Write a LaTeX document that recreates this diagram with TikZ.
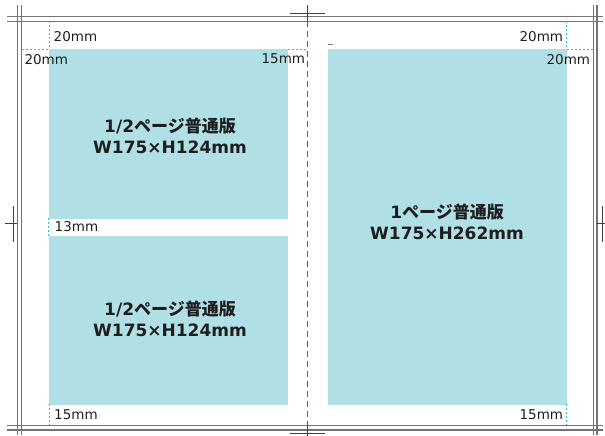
\documentclass[tikz,border=0pt]{standalone}
\usepackage{fontspec}
\setmainfont{DejaVu Sans}
\newfontfamily\jpb{Noto Sans CJK JP Bold}
\definecolor{boxblue}{RGB}{176,223,230}
\definecolor{guide}{RGB}{50,190,210}
\definecolor{framec}{RGB}{115,115,115}
\definecolor{markc}{RGB}{65,65,65}
\definecolor{txt}{RGB}{30,30,30}
\begin{document}
\begin{tikzpicture}[x=1pt,y=-1pt,
  framel/.style={draw=framec, line width=1.2pt},
  cropl/.style={draw=markc, line width=1pt},
  centerl/.style={draw=framec!85!black, line width=1.5pt, dash pattern=on 5.5pt off 4.5pt},
  guidel/.style={draw=guide, line width=0.8pt, dash pattern=on 2pt off 2pt},
  area/.style={fill=boxblue, draw=none, inner sep=0pt, anchor=north west},
  dim/.style={font=\fontsize{13.5}{14}\selectfont, text=txt, inner sep=0pt},
  big/.style={font=\fontsize{17}{21}\selectfont\bfseries, align=center, text=txt, inner sep=0pt}]
\useasboundingbox (0,0) rectangle (605,436);
% blue areas
\node[area, minimum width=238.7pt, minimum height=169.3pt] (A) at (49,49) {};
\node[area, minimum width=238.7pt, minimum height=168.3pt] (B) at (49,236) {};
\node[area, minimum width=239pt, minimum height=355.3pt] (C) at (327.7,49) {};
% frame lines
\draw[framel] (7,16.7) -- (603,16.7);
\draw[framel] (7,21.3) -- (603,21.3);
\draw[framel] (7,425.3) -- (603,425.3);
\draw[framel] (7,430) -- (603,430);
\draw[framel] (17.3,5) -- (17.3,435);
\draw[framel] (21.7,5) -- (21.7,435);
\draw[framel] (593.3,5) -- (593.3,435);
\draw[framel] (597,5) -- (597,435);
% center line and crop marks
\coordinate (ct) at (307.7,5);
\coordinate (ct2) at (307.7,21.3);
\coordinate (cb2) at (307.7,425.3);
\coordinate (cb) at (307.7,436);
\draw[cropl] (ct) -- (ct2);
\draw[centerl] (ct2) -- (cb2);
\draw[cropl] (cb2) -- (cb);
\draw[cropl] (290,13.3) -- (325,13.3);
\draw[cropl] (290,433.8) -- (325,433.8);
\draw[cropl] (13.3,206) -- (13.3,242);
\draw[cropl] (5,223.3) -- (17.3,223.3);
\draw[cropl] (602.3,206) -- (602.3,242);
\draw[cropl] (597,223.3) -- (605,223.3);
% guides
\draw[guidel] (49,21.3) -- (49,49);
\draw[guidel] (21.7,49) -- (49,49);
\draw[guidel] (287.7,49) -- (306,49);
\draw[guidel] (566.7,21.3) -- (566.7,49);
\draw[guidel] (566.7,49) -- (593.3,49);
\draw[guidel] (48.5,218.3) -- (48.5,236);
\draw[guidel] (49,404.3) -- (49,425.3);
\draw[guidel] (566.7,404.3) -- (566.7,425.3);
% tiny mark
\fill[gray] (328,43.6) rectangle (333,45.4);
% dimension labels
\node[dim, anchor=west] (d1) at (53.5,36.7) {20mm};
\node[dim, anchor=west] (d2) at (24.3,59.3) {20mm};
\node[dim, anchor=east] (d3) at (305.3,58.3) {15mm};
\node[dim, anchor=east] (d4) at (563.3,36.3) {20mm};
\node[dim, anchor=east] (d5) at (590.3,59.3) {20mm};
\node[dim, anchor=west] (d6) at (54.5,226.7) {13mm};
\node[dim, anchor=west] (d7) at (54,415) {15mm};
\node[dim, anchor=east] (d8) at (563.3,415) {15mm};
% main labels
\node[big] (la) at (170,136) {1/2{\jpb ページ普通版}\\W175×H124mm};
\node[big] (lb) at (170,319) {1/2{\jpb ページ普通版}\\W175×H124mm};
\node[big] (lc) at (447,221.7) {1{\jpb ページ普通版}\\W175×H262mm};
\end{tikzpicture}
\end{document}
